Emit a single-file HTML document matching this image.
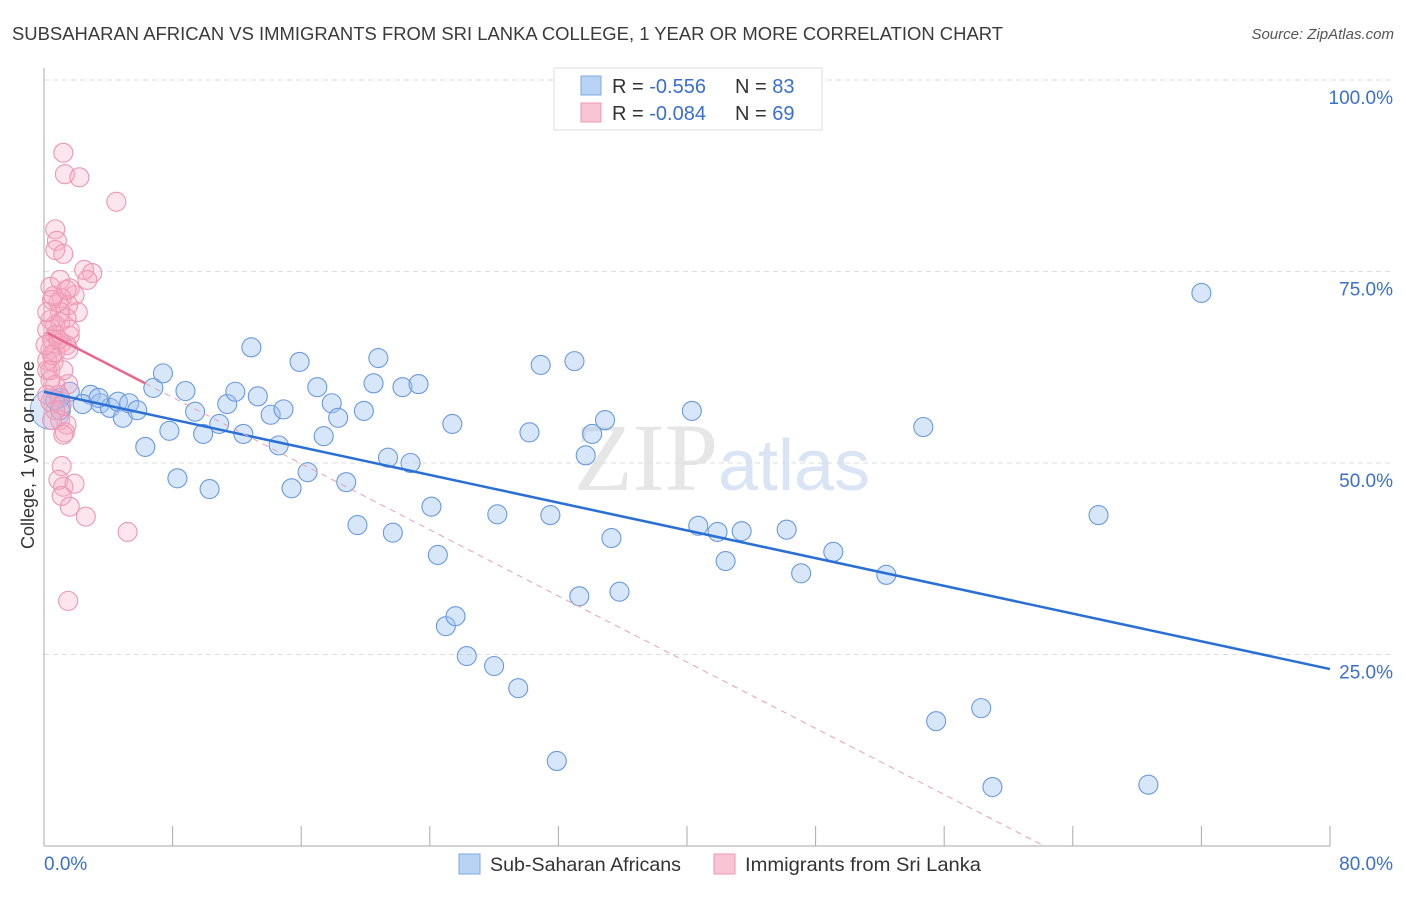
<!DOCTYPE html>
<html><head><meta charset="utf-8"><style>
body{margin:0;background:#fff;font-family:"Liberation Sans",sans-serif}
</style></head><body>
<svg id="c" width="1406" height="892" xmlns="http://www.w3.org/2000/svg">
<text x="12" y="40" font-size="18" fill="#3a3a3a" textLength="991" lengthAdjust="spacingAndGlyphs">SUBSAHARAN AFRICAN VS IMMIGRANTS FROM SRI LANKA COLLEGE, 1 YEAR OR MORE CORRELATION CHART</text>
<text x="1394" y="39" font-size="15" fill="#555" font-style="italic" text-anchor="end">Source: ZipAtlas.com</text>
<text x="718" y="490" font-size="96" fill="#e6e6e6" text-anchor="end" font-family="Liberation Serif,serif">ZIP</text>
<text x="718" y="490" font-size="72" fill="#d9e5f5">atlas</text>
<g id="grid"></g><g id="pts"></g><g id="lines"></g>
<text x="34" y="455" font-size="18" fill="#333" text-anchor="middle" transform="rotate(-90 34 455)">College, 1 year or more</text>
<g>
<rect x="554" y="68" width="268" height="62" fill="#fff" stroke="#ddd"/>
<rect x="581" y="76" width="20" height="19" fill="#b8d3f5" stroke="#7fa9e3"/>
<rect x="581" y="103" width="20" height="19" fill="#f9c4d3" stroke="#eb9ab2"/>
<text x="612" y="93" font-size="20" fill="#333">R = <tspan fill="#3a6fd0">-0.556</tspan><tspan x="735">N = </tspan><tspan fill="#3a6fd0">83</tspan></text>
<text x="612" y="120" font-size="20" fill="#333">R = <tspan fill="#3a6fd0">-0.084</tspan><tspan x="735">N = </tspan><tspan fill="#3a6fd0">69</tspan></text>
</g>
<g>
<rect x="459" y="854" width="21" height="20" fill="#b8d3f5" stroke="#7fa9e3"/>
<text x="490" y="871" font-size="19.5" fill="#333" textLength="191" lengthAdjust="spacingAndGlyphs">Sub-Saharan Africans</text>
<rect x="714" y="854" width="21" height="20" fill="#f9c4d3" stroke="#eb9ab2"/>
<text x="745" y="871" font-size="19.5" fill="#333" textLength="236" lengthAdjust="spacingAndGlyphs">Immigrants from Sri Lanka</text>
</g>
<text x="44" y="870" font-size="19" fill="#3a6fd0">0.0%</text>
<text x="1393" y="870" font-size="19" fill="#3a6fd0" text-anchor="end">80.0%</text>
</svg>
<script>
const yTicks=[100,75,50,25];
const yTickLabels=["100.0%","75.0%","50.0%","25.0%"];
const xTicks=[0,8,16,24,32,40,48,56,64,72,80];
const blueX=[1.0,1.6,2.9,3.5,4.1,4.6,4.9,5.3,5.8,6.3,6.8,7.4,7.8,8.3,8.8,9.4,9.9,10.3,10.9,11.4,11.9,12.4,12.9,13.3,14.1,14.6,14.9,15.4,15.9,16.4,17.0,17.4,17.9,18.3,18.8,19.5,19.9,20.5,20.8,21.4,21.7,22.3,22.8,23.3,24.1,24.5,25.0,25.4,25.6,26.3,28.0,28.2,29.5,30.2,30.9,31.5,31.9,33.0,33.3,33.7,34.1,34.9,35.3,35.8,40.3,40.7,41.9,42.4,43.4,46.2,47.1,49.1,52.4,54.7,55.5,58.3,59.0,65.6,68.7,72.0,0.7,1.0,2.4,3.4];
const blueY=[58.5,59.3,58.9,57.8,57.2,58.0,55.9,57.8,56.9,52.1,59.8,61.7,54.2,48.0,59.4,56.7,53.8,46.6,55.1,57.7,59.3,53.8,65.1,58.7,56.3,52.3,57.0,46.7,63.2,48.8,59.9,53.5,57.8,55.9,47.5,41.9,56.8,60.4,63.7,50.7,40.9,59.9,50.0,60.3,44.3,38.0,28.7,55.1,30.0,24.8,23.5,43.3,20.6,54.0,62.8,43.2,11.1,63.3,32.6,51.0,53.8,55.6,40.2,33.2,56.8,41.8,41.0,37.2,41.1,41.3,35.6,38.4,35.4,54.7,16.3,18.0,7.7,43.2,8.0,72.2,58.2,56.9,57.7,58.5];
const pinkX=[1.2,1.3,2.2,4.5,0.7,0.8,0.7,1.2,2.5,3.0,2.7,0.4,1.6,1.9,1.1,0.9,0.5,1.5,2.1,1.0,1.4,0.4,0.7,1.0,0.2,0.7,1.6,0.5,1.1,1.4,0.4,0.7,1.5,0.2,0.6,0.2,0.4,1.5,0.9,0.4,1.1,0.7,1.0,1.4,1.3,1.2,1.1,0.9,1.2,1.9,1.1,1.6,2.6,5.2,1.5,0.5,0.1,0.2,0.6,1.0,1.4,1.6,0.9,0.4,1.2,0.7,0.2,0.5];
const pinkY=[90.5,87.7,87.3,84.1,80.5,79.0,77.8,77.3,75.2,74.8,73.9,73.0,72.8,71.9,71.5,71.0,71.3,70.6,69.7,69.7,68.9,68.7,68.0,68.4,67.4,66.7,66.6,66.1,65.7,65.4,64.8,64.5,64.8,63.4,63.2,62.1,60.8,60.3,58.9,58.0,57.6,56.9,55.6,55.0,54.0,53.7,49.6,47.8,46.9,47.3,45.7,44.3,43.0,41.0,32.0,64.1,65.4,69.7,71.8,73.9,72.6,67.4,66.1,62.1,62.1,60.2,58.9,55.6];
const blueTrend=[59.3,23.1];
const pinkTrend=[67.2,-1.08];
const pinkSolidEnd=6.3;
const NS="http://www.w3.org/2000/svg";
const X=v=>44+v*1286/80, Y=v=>846-v*7.66;
function mk(t,a,p){const e=document.createElementNS(NS,t);for(const k in a)e.setAttribute(k,a[k]);p.appendChild(e);return e;}
const g=document.getElementById('grid'),P=document.getElementById('pts'),L=document.getElementById('lines');
yTicks.forEach((t,i)=>{
 const l=mk('line',{x1:44,x2:1394,y1:Y(t),y2:Y(t),stroke:'#ddd','stroke-dasharray':'5,4'},g);
 
 
 const tx=mk('text',{x:1393,y:Y(t)+24,'font-size':19,fill:'#3a6fd0','text-anchor':'end'},g);
 tx.textContent=yTickLabels[i];
 
 
});
const ax=mk('line',{x1:44,x2:1330,y1:846,y2:846,stroke:'#aaa'},g);


const ay=mk('line',{x1:44,x2:44,y1:68,y2:846,stroke:'#aaa'},g);


xTicks.forEach(t=>{const l=mk('line',{x1:X(t),x2:X(t),y1:826,y2:846,stroke:'#aaa'},g);
 
 });
const big=mk('circle',{cx:X(0.4),cy:Y(57),r:20,fill:'rgba(160,196,240,0.4)',stroke:'#7fa9e3'},P);


blueX.forEach((x,i)=>{const c=mk('circle',{cx:X(x),cy:Y(blueY[i]),r:9.5,fill:'rgba(160,196,240,0.42)',stroke:'#6a9ade','stroke-width':1.1},P);
 
 });
pinkX.forEach((x,i)=>{const c=mk('circle',{cx:X(x),cy:Y(pinkY[i]),r:9.5,fill:'rgba(246,170,195,0.3)',stroke:'#ee97b2','stroke-width':1.1},P);
 
 });
const bl=mk('line',{x1:X(0),y1:Y(blueTrend[0]),x2:X(80),y2:Y(blueTrend[1]),stroke:'#2a6fd6','stroke-width':2.5},L);


const x0=-pinkTrend[0]/pinkTrend[1];
const pd=mk('line',{x1:X(pinkSolidEnd),y1:Y(pinkTrend[0]+pinkTrend[1]*pinkSolidEnd),x2:X(x0),y2:Y(0),stroke:'#e8a0b5','stroke-width':1,'stroke-dasharray':'6,5'},L);


const ps=mk('line',{x1:X(0.2),y1:Y(pinkTrend[0]+pinkTrend[1]*0.2),x2:X(pinkSolidEnd),y2:Y(pinkTrend[0]+pinkTrend[1]*pinkSolidEnd),stroke:'#e8668f','stroke-width':2.5},L);


</script>
</body></html>
